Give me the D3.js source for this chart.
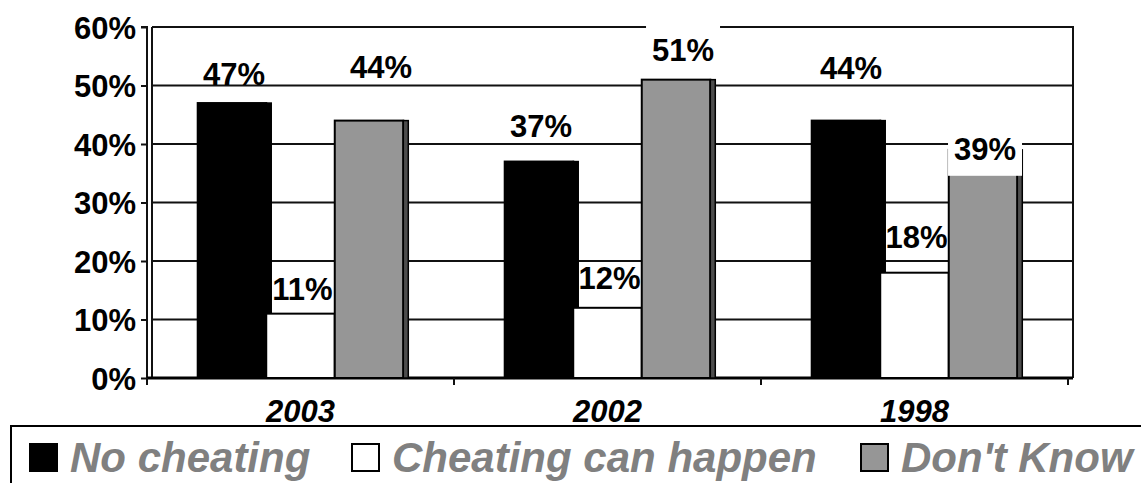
<!DOCTYPE html>
<html><head><meta charset="utf-8">
<script src="https://cdn.jsdelivr.net/npm/d3@7"></script>
<style>html,body{margin:0;padding:0;background:#fff;overflow:hidden}</style>
</head><body>
<svg id="chart" width="1141" height="483"></svg>
<script>
// ---- data ----
const categories = ["2003", "2002", "1998"];
const seriesNames = ["No cheating", "Cheating can happen", "Don't Know"];
const noCheating = [47, 37, 44];
const cheatingCanHappen = [11, 12, 18];
const dontKnow = [44, 51, 39];
const yTicks = [0, 10, 20, 30, 40, 50, 60];
// label placement (value units for baseline, px shift), and whether a label has a white box
const labelAt = [[50.1, 13.3, 51.3], [41.2, 15.2, 54.2], [51.1, 22.2, 37.3]];
const labelShift = [[2, 2, 12], [2, 2, 7], [5, 2, 2]];
const labelBox = [[false, false, false], [false, false, true], [false, false, true]];

(function () {
const seriesValues = [noCheating, cheatingCanHappen, dontKnow];
const fills = ["#000000", "#ffffff", "#969696"];
const sideFills = ["#000000", "#ffffff", "#4d4d4d"];

const svg = d3.select("#chart");
const FONT = "'Liberation Sans', Arial, sans-serif";

const pLeft = 147, pRight = 1068, pTop = 27, pBottom = 378, wallDx = 5;
const y = d3.scaleLinear().domain([0, 60]).range([pBottom, pTop]);
const x0 = d3.scaleBand().domain(categories).range([pLeft, pRight]).paddingInner(0).paddingOuter(0);
const x1 = d3.scaleBand().domain(seriesNames).range([0, x0.bandwidth()]).paddingInner(0).paddingOuter(0.74);
const side = 5;

// gridlines (including top border)
svg.append("g").selectAll("line").data(yTicks.filter(d => d > 0)).join("line")
  .attr("x1", pLeft + wallDx).attr("x2", pRight + wallDx)
  .attr("y1", d => y(d)).attr("y2", d => y(d))
  .attr("stroke", "#111").attr("stroke-width", 2);
// plot wall left & right
svg.append("line").attr("x1", pLeft + wallDx).attr("x2", pLeft + wallDx).attr("y1", pTop).attr("y2", pBottom)
  .attr("stroke", "#111").attr("stroke-width", 2);
svg.append("line").attr("x1", pRight + wallDx).attr("x2", pRight + wallDx).attr("y1", pTop - 1).attr("y2", pBottom)
  .attr("stroke", "#111").attr("stroke-width", 2);

// y axis
const yAxis = d3.axisLeft(y).tickValues(yTicks).tickFormat(d => d + "%").tickSize(6).tickPadding(5);
const gy = svg.append("g").attr("transform", `translate(${pLeft},0)`).call(yAxis);
gy.select(".domain").attr("stroke", "#111").attr("stroke-width", 2).attr("fill", "none")
  .attr("d", `M-6,${pTop}H0V${pBottom + 7}`);
gy.selectAll(".tick line").attr("stroke", "#111").attr("stroke-width", 2);
gy.selectAll(".tick text").attr("font-family", FONT).attr("font-size", 31).attr("font-weight", "bold")
  .attr("fill", "#000").attr("dy", "0.36em");

// x axis
const xAxis = d3.axisBottom(x0).tickSize(0).tickPadding(0);
const gx = svg.append("g").attr("transform", `translate(0,${pBottom})`).call(xAxis);
gx.select(".domain").remove();
gx.selectAll(".tick text").attr("font-family", FONT).attr("font-size", 31).attr("font-weight", "bold")
  .attr("font-style", "italic").attr("fill", "#000").attr("dy", 0).attr("y", 44);
svg.append("line").attr("x1", pLeft).attr("x2", pRight + wallDx).attr("y1", pBottom).attr("y2", pBottom)
  .attr("stroke", "#000").attr("stroke-width", 3);
const boundaries = categories.map(c => x0(c) + x0.bandwidth()).concat([pLeft]);
svg.append("g").selectAll("line").data(boundaries).join("line")
  .attr("x1", d => d).attr("x2", d => d).attr("y1", pBottom).attr("y2", pBottom + 7)
  .attr("stroke", "#111").attr("stroke-width", 2);

// bars
const bars = svg.append("g");
categories.forEach((c, ci) => {
  seriesNames.forEach((s, si) => {
    const v = seriesValues[si][ci];
    const bx = x0(c) + x1(s), bw = x1.bandwidth();
    bars.append("rect").attr("x", bx).attr("y", y(v)).attr("width", bw).attr("height", pBottom - y(v))
      .attr("fill", fills[si]).attr("stroke", "#000").attr("stroke-width", 2);
    bars.append("rect").attr("x", bx + bw).attr("y", y(v)).attr("width", side).attr("height", pBottom - y(v))
      .attr("fill", sideFills[si]).attr("stroke", "#000").attr("stroke-width", 1.5);
  });
});

// data labels
const labels = svg.append("g");
categories.forEach((c, ci) => {
  seriesNames.forEach((s, si) => {
    const v = seriesValues[si][ci];
    const cx = x0(c) + x1(s) + x1.bandwidth() / 2 + labelShift[ci][si];
    const by = y(labelAt[ci][si]);
    if (labelBox[ci][si]) {
      labels.append("rect").attr("x", cx - 37).attr("y", by - 36).attr("width", 74).attr("height", 52)
        .attr("fill", "#fff");
    }
    labels.append("text").attr("x", cx).attr("y", by).attr("text-anchor", "middle")
      .attr("font-family", FONT).attr("font-size", 31).attr("font-weight", "bold").attr("fill", "#000")
      .text(v + "%");
  });
});

// legend
const lg = svg.append("g");
lg.append("rect").attr("x", 11).attr("y", 426).attr("width", 1200).attr("height", 100)
  .attr("fill", "none").attr("stroke", "#000").attr("stroke-width", 2);
const legendX = [30, 352, 861];
seriesNames.forEach((s, si) => {
  lg.append("rect").attr("x", legendX[si]).attr("y", 444).attr("width", 27).attr("height", 27)
    .attr("fill", fills[si]).attr("stroke", "#000").attr("stroke-width", 2);
  lg.append("text").attr("x", legendX[si] + 40).attr("y", 472)
    .attr("font-family", FONT).attr("font-size", 42).attr("font-weight", "bold").attr("font-style", "italic")
    .attr("fill", "#808080").text(s);
});
})();
</script>
</body></html>
